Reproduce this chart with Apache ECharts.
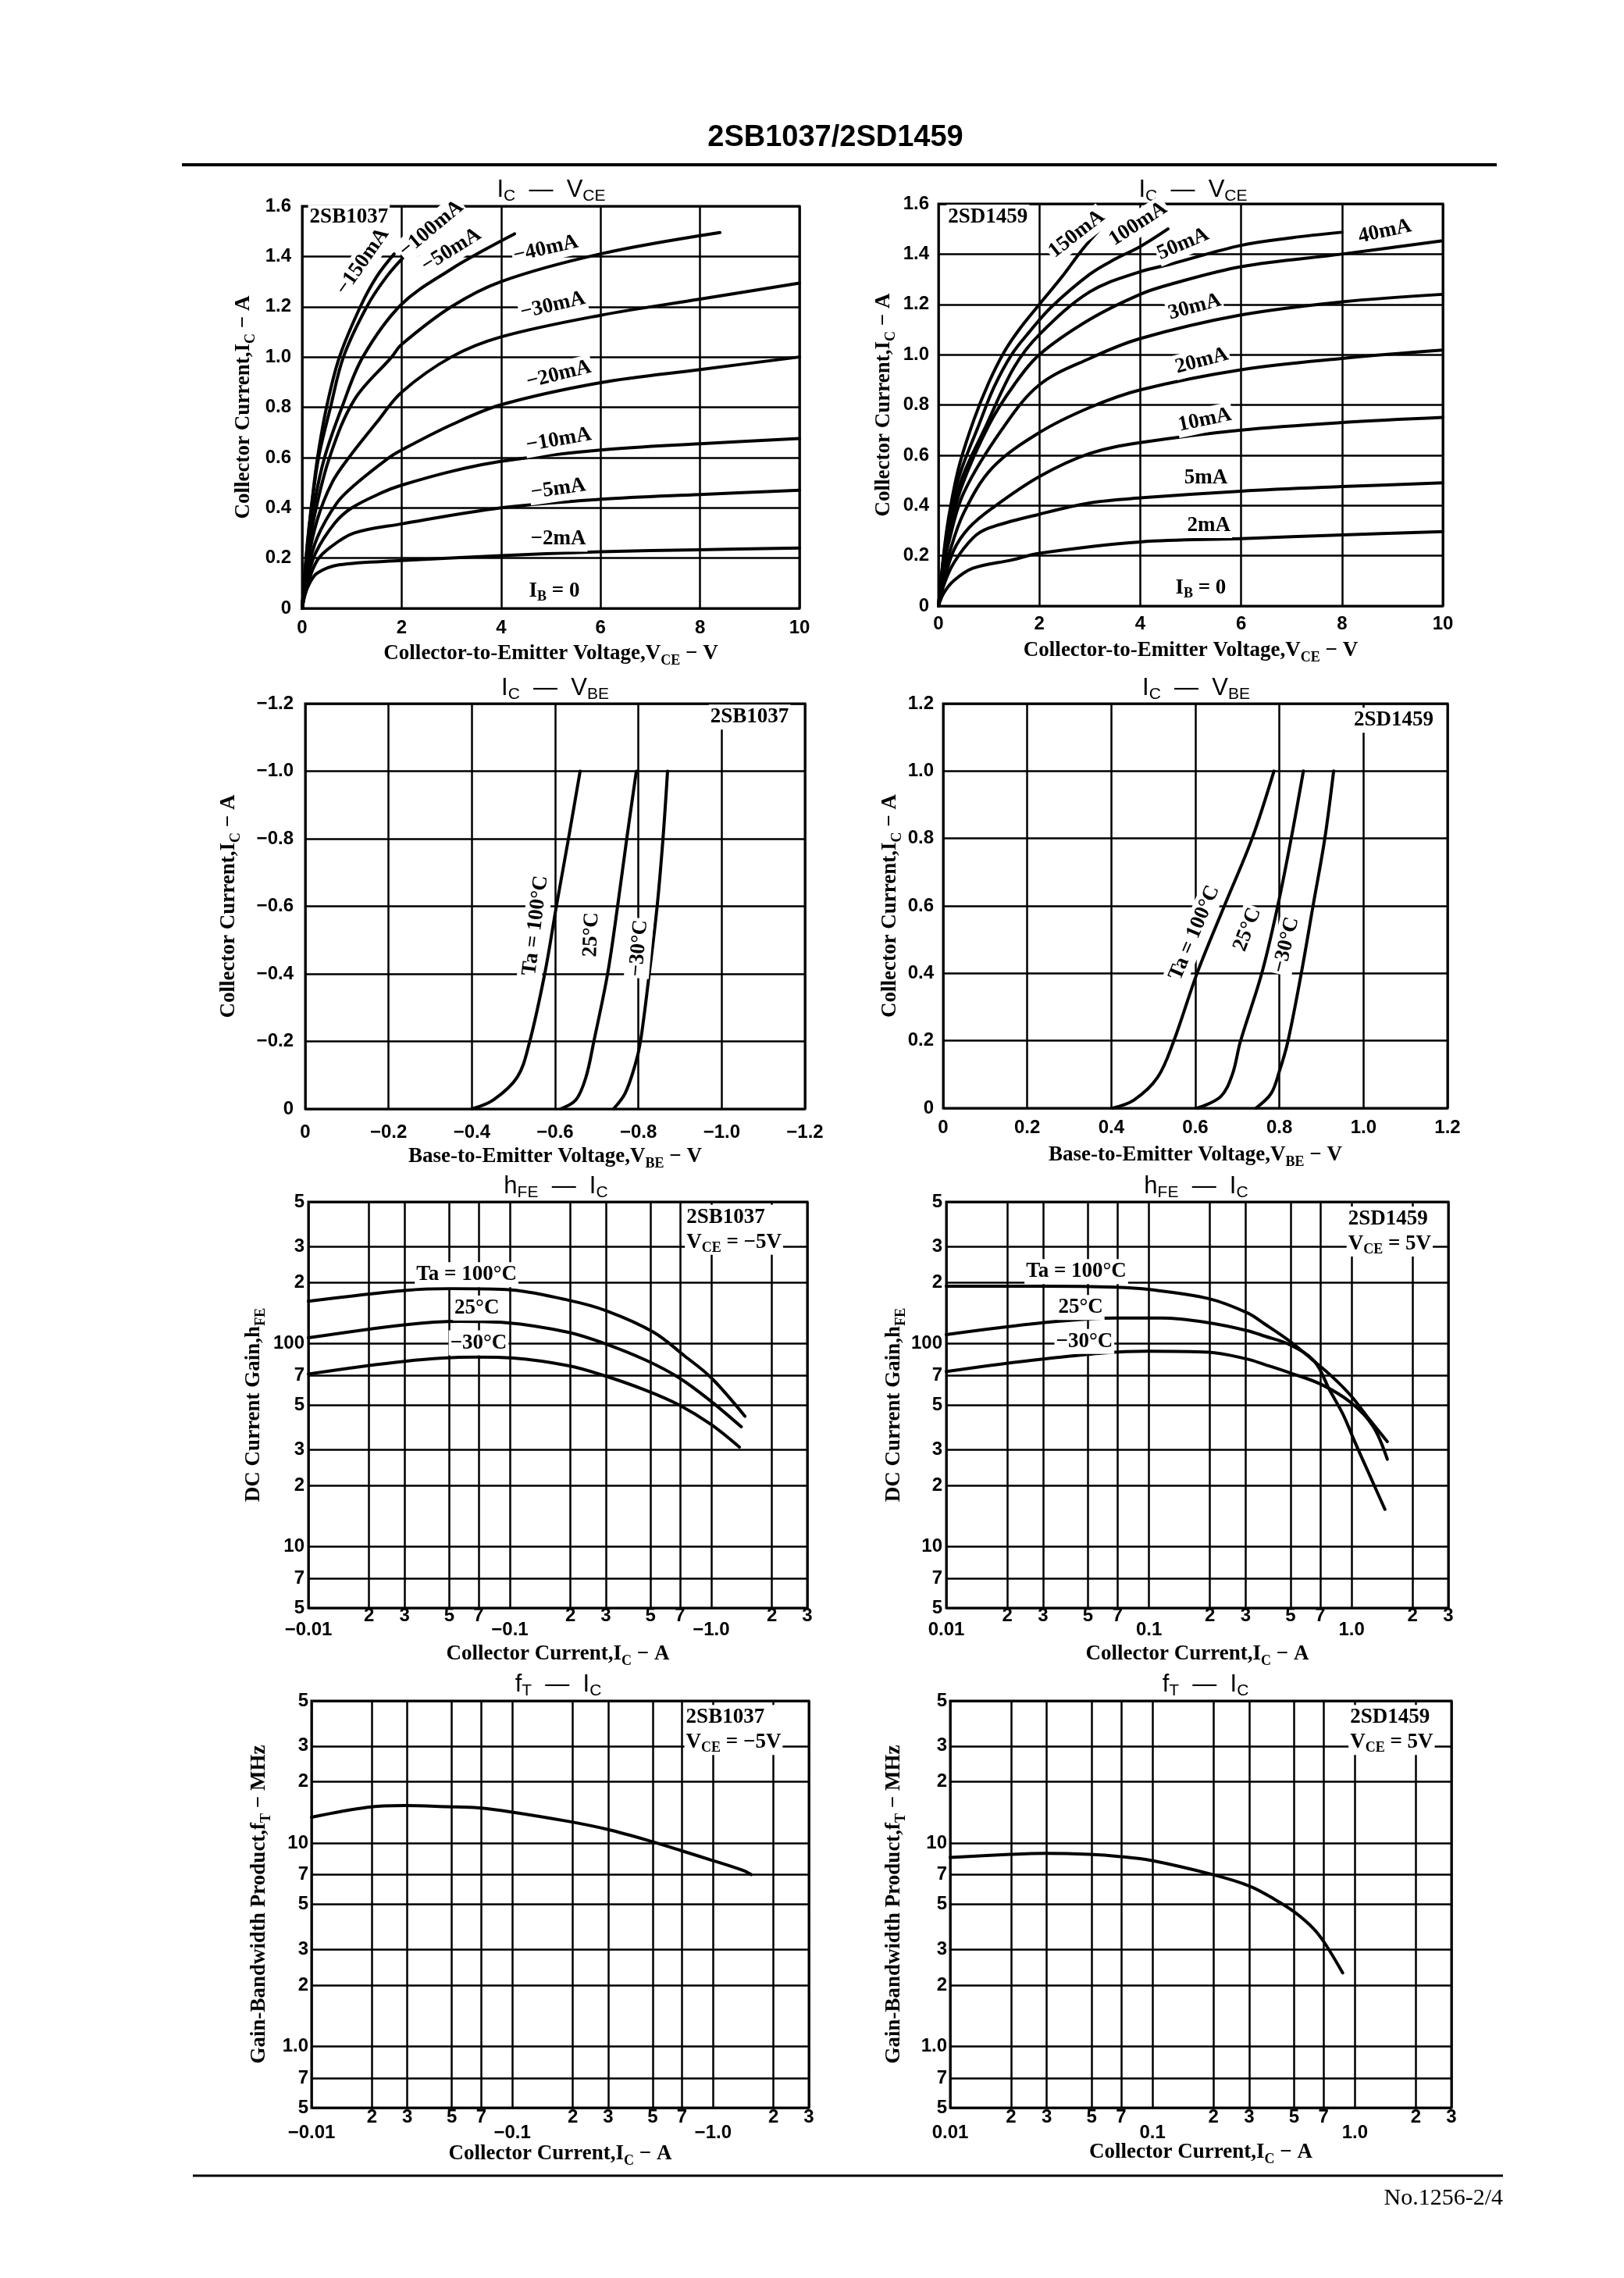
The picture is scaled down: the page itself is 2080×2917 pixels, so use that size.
<!DOCTYPE html>
<html>
<head>
<meta charset="utf-8">
<title>2SB1037/2SD1459</title>
<script src="https://cdn.jsdelivr.net/npm/echarts@6.0.0/dist/echarts.min.js"></script>
<style>
html,body{margin:0;padding:0;background:#fff;}
#chart{width:2080px;height:2917px;}
</style>
</head>
<body>
<div id="chart"></div>
<script>
// ================= DATA =================
// --- Chart 1: 2SB1037  IC - VCE  (magnitudes: |VCE| in V, |IC| in A) ---
const sbVceIb150 = [[0,0],[0.1,0.25],[0.2,0.43],[0.31,0.6],[0.49,0.8],[0.75,1.0],[1.17,1.2],[1.5,1.32],[1.85,1.41]];
const sbVceIb100 = [[0,0],[0.1,0.24],[0.2,0.42],[0.33,0.6],[0.57,0.8],[0.83,1.0],[1.3,1.2],[1.7,1.32],[2.1,1.41]];
const sbVceIb50  = [[0,0],[0.1,0.21],[0.25,0.42],[0.45,0.6],[0.8,0.8],[1.22,1.0],[2.0,1.21],[3.0,1.35],[3.7,1.43],[4.27,1.49]];
const sbVceIb40  = [[0,0],[0.1,0.19],[0.25,0.37],[0.55,0.6],[1.05,0.83],[1.8,1.0],[2.0,1.05],[3.0,1.2],[4.0,1.3],[6.0,1.41],[8.4,1.495]];
const sbVceIb30  = [[0,0],[0.1,0.17],[0.3,0.35],[0.6,0.5],[0.94,0.6],[1.5,0.74],[2.0,0.86],[3.0,1.0],[4.0,1.08],[6.0,1.166],[8.0,1.23],[10,1.294]];
const sbVceIb20  = [[0,0],[0.1,0.14],[0.3,0.28],[0.7,0.42],[1.05,0.49],[1.75,0.6],[2.0,0.63],[3.0,0.73],[4.0,0.81],[6.0,0.898],[8.0,0.95],[10,1.0]];
const sbVceIb10  = [[0,0],[0.1,0.11],[0.27,0.22],[0.66,0.34],[1.0,0.4],[1.6,0.46],[2.0,0.49],[3.0,0.545],[4.0,0.585],[6.0,0.63],[8.0,0.655],[10,0.676]];
const sbVceIb5   = [[0,0],[0.1,0.09],[0.3,0.19],[0.58,0.245],[1.05,0.3],[2.0,0.336],[4.0,0.4],[6.0,0.434],[8.0,0.453],[10,0.47]];
const sbVceIb2   = [[0,0],[0.05,0.05],[0.15,0.1],[0.3,0.14],[0.74,0.173],[2.0,0.19],[4.0,0.21],[6.0,0.225],[8.0,0.233],[10,0.24]];
const sbVceCurveNames = ['−150mA','−100mA','−50mA','−40mA','−30mA','−20mA','−10mA','−5mA','−2mA'];

// --- Chart 2: 2SD1459  IC - VCE ---
const sdVceIb150 = [[0,0],[0.1,0.2],[0.2,0.35],[0.4,0.55],[0.7,0.74],[1.0,0.89],[1.3,1.01],[1.6,1.1],[2.0,1.2],[2.45,1.31],[2.86,1.42],[3.3,1.52]];
const sdVceIb100 = [[0,0],[0.1,0.19],[0.2,0.33],[0.4,0.51],[0.8,0.72],[1.1,0.87],[1.45,1.0],[1.8,1.09],[2.24,1.19],[3.0,1.32],[3.5,1.38],[4.0,1.43],[4.55,1.5]];
const sdVceIb50  = [[0,0],[0.1,0.17],[0.2,0.3],[0.45,0.5],[0.95,0.72],[1.5,0.95],[2.0,1.08],[3.0,1.25],[4.0,1.33],[4.6,1.36],[6.0,1.435],[7.0,1.465],[8.0,1.487]];
const sdVceIb40  = [[0,0],[0.1,0.16],[0.2,0.28],[0.45,0.47],[1.0,0.72],[1.5,0.88],[2.0,1.0],[3.0,1.14],[4.0,1.24],[4.6,1.28],[6.0,1.35],[8.0,1.4],[10,1.453]];
const sdVceIb30  = [[0,0],[0.1,0.14],[0.2,0.25],[0.5,0.45],[1.25,0.7],[2.0,0.88],[3.0,0.985],[4.0,1.064],[6.0,1.158],[8.0,1.21],[10,1.24]];
const sdVceIb20  = [[0,0],[0.1,0.11],[0.2,0.2],[0.5,0.37],[1.07,0.55],[2.0,0.69],[3.0,0.79],[4.0,0.86],[6.0,0.94],[8.0,0.985],[10,1.018]];
const sdVceIb10  = [[0,0],[0.1,0.09],[0.3,0.22],[0.6,0.31],[1.07,0.39],[2.0,0.515],[3.0,0.607],[4.0,0.65],[6.0,0.7],[8.0,0.73],[10,0.75]];
const sdVceIb5   = [[0,0],[0.1,0.08],[0.3,0.17],[0.68,0.27],[1.0,0.31],[2.0,0.365],[3.0,0.41],[4.0,0.43],[6.0,0.457],[8.0,0.475],[10,0.49]];
const sdVceIb2   = [[0,0],[0.1,0.05],[0.3,0.1],[0.68,0.15],[1.45,0.183],[2.0,0.21],[4.0,0.255],[6.0,0.268],[8.0,0.283],[10,0.296]];
const sdVceCurveNames = ['150mA','100mA','50mA','40mA','30mA','20mA','10mA','5mA','2mA'];

// --- Chart 3: 2SB1037  IC - VBE (magnitudes) ---
const sbVbeTa100 = [[0.40,0],[0.452,0.027],[0.509,0.094],[0.537,0.19],[0.575,0.4],[0.603,0.6],[0.632,0.8],[0.66,1.0]];
const sbVbeTa25  = [[0.613,0],[0.65,0.027],[0.674,0.094],[0.693,0.2],[0.726,0.4],[0.75,0.6],[0.772,0.8],[0.795,1.0]];
const sbVbeTaM30 = [[0.74,0],[0.768,0.046],[0.792,0.13],[0.805,0.2],[0.826,0.4],[0.845,0.6],[0.859,0.8],[0.87,1.0]];

// --- Chart 4: 2SD1459  IC - VBE ---
const sdVbeTa100 = [[0.403,0],[0.454,0.024],[0.51,0.091],[0.548,0.197],[0.604,0.4],[0.669,0.6],[0.735,0.8],[0.787,1.0]];
const sdVbeTa25  = [[0.604,0],[0.66,0.034],[0.688,0.1],[0.707,0.197],[0.758,0.4],[0.796,0.6],[0.828,0.8],[0.857,1.0]];
const sdVbeTaM30 = [[0.744,0],[0.78,0.043],[0.8,0.11],[0.82,0.197],[0.852,0.4],[0.88,0.6],[0.908,0.8],[0.929,1.0]];

// --- Chart 5: 2SB1037  hFE - IC (|IC| in A) ---
const sbHfeTa100 = [[0.01,162],[0.03,183],[0.051,187],[0.096,185],[0.195,164],[0.304,145],[0.518,114],[0.739,87],[1.0,68],[1.47,44]];
const sbHfeTa25  = [[0.01,107],[0.03,124],[0.056,129],[0.096,127],[0.195,114],[0.29,101],[0.474,83],[0.692,68],[1.0,52],[1.41,39]];
const sbHfeTaM30 = [[0.01,71],[0.03,82],[0.067,86],[0.104,85],[0.195,78],[0.29,70],[0.474,59],[0.692,50],[1.0,40],[1.38,31]];

// --- Chart 6: 2SD1459  hFE - IC ---
const sdHfeTa100 = [[0.01,192],[0.03,192],[0.068,190],[0.101,185],[0.197,167],[0.306,142],[0.373,125],[0.495,103],[0.635,84],[0.8,69],[1.0,55],[1.21,43],[1.5,33]];
const sdHfeTa25  = [[0.01,111],[0.03,127],[0.068,134],[0.116,134],[0.197,127],[0.306,116],[0.373,109],[0.495,99],[0.655,82],[0.78,59],[0.906,45],[1.035,33],[1.216,23],[1.46,15.3]];
const sdHfeTaM30 = [[0.01,73],[0.0295,84],[0.097,92],[0.197,91],[0.306,84],[0.373,79],[0.495,72],[0.71,63],[1.0,51],[1.28,39],[1.5,27]];

// --- Chart 7 / 8: fT - IC (MHz) ---
const sbFt = [[0.01,13.4],[0.019,15.0],[0.029,15.3],[0.0475,15.1],[0.068,14.9],[0.1,14.2],[0.189,12.8],[0.295,11.7],[0.492,10.2],[0.689,9.2],[1.0,8.2],[1.43,7.3],[1.55,7.0]];
const sdFt = [[0.01,8.5],[0.0198,8.8],[0.0295,8.9],[0.049,8.8],[0.068,8.6],[0.0995,8.2],[0.198,7.0],[0.301,6.15],[0.4,5.3],[0.5,4.6],[0.624,3.8],[0.713,3.2],[0.87,2.3]];

// --- Tick values and tick labels ---
const icLogTicks    = [0.01,0.02,0.03,0.05,0.07,0.1,0.2,0.3,0.5,0.7,1,2,3];
const icLogLabelsSB = ['−0.01','2','3','5','7','−0.1','2','3','5','7','−1.0','2','3'];
const icLogLabelsSD = ['0.01','2','3','5','7','0.1','2','3','5','7','1.0','2','3'];
const hfeLogTicks   = [5,7,10,20,30,50,70,100,200,300,500];
const hfeLogLabels  = ['5','7','10','2','3','5','7','100','2','3','5'];
const ftLogTicks    = [0.5,0.7,1,2,3,5,7,10,20,30,50];
const ftLogLabels   = ['5','7','1.0','2','3','5','7','10','2','3','5'];

// ================= STYLE / LAYOUT =================
const FONT_SERIF = '"Liberation Serif", "DejaVu Serif", serif';
const FONT_NUM = '"Liberation Sans Narrow", "Liberation Sans", sans-serif';
const FONT_SANS = '"Liberation Sans", "DejaVu Sans", sans-serif';

const GRIDS = [
  {left:387,  top:264,  width:637, height:515},
  {left:1202, top:261,  width:646, height:515},
  {left:391,  top:901,  width:640, height:519},
  {left:1208, top:901,  width:646, height:518},
  {left:395,  top:1539, width:639, height:520},
  {left:1212, top:1539, width:643, height:520},
  {left:399,  top:2178, width:637, height:521},
  {left:1217, top:2178, width:642, height:521}
];

const subRich = (size, fam, weight) => ({ s: { fontSize: size, fontFamily: fam, fontWeight: weight || 'normal', verticalAlign: 'bottom', color: '#000', textBorderWidth: 0 } });
const nameStyle = { fontFamily: FONT_SERIF, fontWeight: 'bold', fontSize: 27, color: '#000', lineHeight: 36, rich: subRich(18, FONT_SERIF, 'bold') };
const splitStyle = { show: true, lineStyle: { color: '#000', width: 2.5 } };
const numLabel = { fontFamily: FONT_NUM, fontWeight: 'bold', fontSize: 24, color: '#000' };

function lookupFormatter(vals, labels, twoRow) {
  return function (v) {
    for (let i = 0; i < vals.length; i++) {
      if (Math.abs(Math.log10(v) - Math.log10(vals[i])) < 1e-4) {
        const s = labels[i];
        return (twoRow && s.indexOf('.') >= 0) ? '\n' + s : s;
      }
    }
    return '';
  };
}

function axisCommon(gi, name, gap) {
  return {
    gridIndex: gi, name: name, nameLocation: 'middle', nameGap: gap, nameTextStyle: nameStyle,
    nameMoveOverlap: false,
    axisLine: { show: false }, axisTick: { show: false },
    splitLine: splitStyle
  };
}

const xNameVce = 'Collector-to-Emitter Voltage,V{s|CE} − V';
const xNameVbe = 'Base-to-Emitter Voltage,V{s|BE} − V';
const xNameIc = 'Collector Current,I{s|C} − A';
const yNameIc = 'Collector Current,I{s|C} − A';
const yNameHfe = 'DC Current Gain,h{s|FE}';
const yNameFt = 'Gain-Bandwidth Product,f{s|T} − MHz';

const fmtPlain = v => String(v);
const fmtDec = v => (Math.abs(v) < 1e-9 ? '0' : v.toFixed(1));
const fmtNegDec = v => (Math.abs(v) < 1e-9 ? '0' : '−' + v.toFixed(1));

function linX(gi, name, gap, max, interval, fmt, margin) {
  return Object.assign(axisCommon(gi, name, gap), {
    type: 'value', min: 0, max: max, interval: interval,
    axisLabel: Object.assign({ formatter: fmt, margin: margin, showMinLabel: true, showMaxLabel: true }, numLabel)
  });
}
function logX(gi, labels, gap, margin, lh) {
  return Object.assign(axisCommon(gi, xNameIc, gap), {
    type: 'log', logBase: 10, min: 0.01, max: 3,
    axisTick: { show: false, customValues: icLogTicks },
    axisLabel: Object.assign({ customValues: icLogTicks, formatter: lookupFormatter(icLogTicks, labels, true), margin: margin, lineHeight: lh }, numLabel)
  });
}
function logY(gi, name, gap, ticks, labels, min, max, margin) {
  return Object.assign(axisCommon(gi, name, gap), {
    type: 'log', logBase: 10, min: min, max: max,
    axisTick: { show: false, customValues: ticks },
    axisLabel: Object.assign({ customValues: ticks, formatter: lookupFormatter(ticks, labels, false), margin: margin }, numLabel)
  });
}

const xAxes = [
  linX(0, xNameVce, 40, 10, 2, fmtPlain, 13),
  linX(1, xNameVce, 39, 10, 2, fmtPlain, 11),
  linX(2, xNameVbe, 43, 1.2, 0.2, fmtNegDec, 18),
  linX(3, xNameVbe, 42, 1.2, 0.2, fmtDec, 13),
  logX(4, icLogLabelsSB, 41, 1, 18),
  logX(5, icLogLabelsSD, 41, 1, 18),
  logX(6, icLogLabelsSB, 41, 2, 20),
  logX(7, icLogLabelsSD, 39, 2, 20)
];
const yAxes = [
  linX(0, yNameIc, 57, 1.6, 0.2, fmtDec, 14),
  linX(1, yNameIc, 52, 1.6, 0.2, fmtDec, 12),
  linX(2, yNameIc, 80, 1.2, 0.2, fmtNegDec, 15),
  linX(3, yNameIc, 50, 1.2, 0.2, fmtDec, 12),
  logY(4, yNameHfe, 52, hfeLogTicks, hfeLogLabels, 5, 500, 5),
  logY(5, yNameHfe, 49, hfeLogTicks, hfeLogLabels, 5, 500, 5),
  logY(6, yNameFt, 49, ftLogTicks, ftLogLabels, 0.5, 50, 4),
  logY(7, yNameFt, 54, ftLogTicks, ftLogLabels, 0.5, 50, 4)
];

function curve(gi, data) {
  return {
    type: 'line', xAxisIndex: gi, yAxisIndex: gi, data: data,
    showSymbol: false, symbol: 'none', smooth: 0.35,
    lineStyle: { color: '#000', width: 4, cap: 'round', join: 'round' }, clip: true, silent: true, z: 3
  };
}

// Annotation anchors (data coordinates) for the in-plot texts
const annotations = [
  [0, 1.22, 1.38, sbVceCurveNames[0], 55], [0, 2.6, 1.51, sbVceCurveNames[1], 40], [0, 3.0, 1.425, sbVceCurveNames[2], 32],
  [0, 4.9, 1.43, sbVceCurveNames[3], 13], [0, 5.04, 1.205, sbVceCurveNames[4], 13], [0, 5.16, 0.93, sbVceCurveNames[5], 14],
  [0, 5.16, 0.67, sbVceCurveNames[6], 10], [0, 5.15, 0.475, sbVceCurveNames[7], 8], [0, 5.15, 0.275, sbVceCurveNames[8], 0],
  [0, 5.07, 0.068, 'I{s|B} = 0', 0], [0, 0.94, 1.556, '2SB1037', 0],
  [1, 2.74, 1.48, sdVceCurveNames[0], 38], [1, 3.96, 1.52, sdVceCurveNames[1], 33], [1, 4.85, 1.44, sdVceCurveNames[2], 23],
  [1, 8.85, 1.49, sdVceCurveNames[3], 12], [1, 5.08, 1.19, sdVceCurveNames[4], 15], [1, 5.22, 0.975, sdVceCurveNames[5], 15],
  [1, 5.28, 0.74, sdVceCurveNames[6], 12], [1, 5.3, 0.51, sdVceCurveNames[7], 0], [1, 5.36, 0.32, sdVceCurveNames[8], 0],
  [1, 5.2, 0.07, 'I{s|B} = 0', 0], [1, 0.98, 1.547, '2SD1459', 0],
  [2, 0.553, 0.543, 'Ta = 100°C', 83], [2, 0.687, 0.516, '25°C', 88], [2, 0.801, 0.476, '−30°C', 85], [2, 1.067, 1.16, '2SB1037', 0],
  [3, 0.598, 0.52, 'Ta = 100°C', 67], [3, 0.724, 0.53, '25°C', 69], [3, 0.816, 0.484, '−30°C', 76], [3, 1.072, 1.151, '2SD1459', 0],
  [4, 0.061, 219, 'Ta = 100°C', 0], [4, 0.0686, 150, '25°C', 0], [4, 0.07, 101, '−30°C', 0],
  [4, 0.74, 364, '2SB1037\nV{s|CE} = −5V', 0, 'left'],
  [5, 0.0438, 227, 'Ta = 100°C', 0], [5, 0.046, 151, '25°C', 0], [5, 0.048, 102.6, '−30°C', 0],
  [5, 0.944, 357, '2SD1459\nV{s|CE} = 5V', 0, 'left'],
  [6, 0.72, 36, '2SB1037\nV{s|CE} = −5V', 0, 'left'],
  [7, 0.93, 36, '2SD1459\nV{s|CE} = 5V', 0, 'left']
];

function annotationSeries(gi) {
  const items = annotations.filter(a => a[0] === gi);
  return {
    type: 'scatter', xAxisIndex: gi, yAxisIndex: gi, symbolSize: 1, silent: true, z: 10, zlevel: 1,
    itemStyle: { color: 'rgba(0,0,0,0)', opacity: 1 },
    data: items.map(a => ({
      value: [a[1], a[2]],
      label: {
        show: true, position: 'inside', formatter: a[3], rotate: a[4] || 0,
        align: a[5] || 'center', verticalAlign: 'middle', opacity: 1,
        fontFamily: FONT_SERIF, fontWeight: 'bold', fontSize: 27, color: '#000', lineHeight: 32,
        textBorderWidth: 0, textBorderColor: 'transparent', textShadowBlur: 0,
        backgroundColor: '#fff', padding: [0, 2],
        rich: subRich(18, FONT_SERIF, 'bold')
      }
    }))
  };
}

const series = [];
[sbVceIb150, sbVceIb100, sbVceIb50, sbVceIb40, sbVceIb30, sbVceIb20, sbVceIb10, sbVceIb5, sbVceIb2].forEach(d => series.push(curve(0, d)));
[sdVceIb150, sdVceIb100, sdVceIb50, sdVceIb40, sdVceIb30, sdVceIb20, sdVceIb10, sdVceIb5, sdVceIb2].forEach(d => series.push(curve(1, d)));
[sbVbeTa100, sbVbeTa25, sbVbeTaM30].forEach(d => series.push(curve(2, d)));
[sdVbeTa100, sdVbeTa25, sdVbeTaM30].forEach(d => series.push(curve(3, d)));
[sbHfeTa100, sbHfeTa25, sbHfeTaM30].forEach(d => series.push(curve(4, d)));
[sdHfeTa100, sdHfeTa25, sdHfeTaM30].forEach(d => series.push(curve(5, d)));
series.push(curve(6, sbFt));
series.push(curve(7, sdFt));
for (let g = 0; g < 8; g++) series.push(annotationSeries(g));

// Page texts (titles, header, footer)
const chartTitles = [
  [706, 243, 'I{s|C}  —  V{s|CE}'], [1528, 243, 'I{s|C}  —  V{s|CE}'],
  [711, 881, 'I{s|C}  —  V{s|BE}'], [1532, 881, 'I{s|C}  —  V{s|BE}'],
  [712, 1519, 'h{s|FE}  —  I{s|C}'], [1532, 1519, 'h{s|FE}  —  I{s|C}'],
  [715, 2157, 'f{s|T}  —  I{s|C}'], [1544, 2157, 'f{s|T}  —  I{s|C}']
];

const graphic = [
  { type: 'text', x: 1070, y: 177, silent: true,
    style: { text: '2SB1037/2SD1459', font: 'bold 38px ' + FONT_SANS, fill: '#000', align: 'center', verticalAlign: 'middle' } },
  { type: 'line', silent: true, shape: { x1: 233, y1: 211, x2: 1917, y2: 211 }, style: { stroke: '#000', lineWidth: 4 } },
  { type: 'line', silent: true, shape: { x1: 247, y1: 2786, x2: 1925, y2: 2786 }, style: { stroke: '#000', lineWidth: 3 } },
  { type: 'text', x: 1925, y: 2815, silent: true,
    style: { text: 'No.1256-2/4', font: '30px ' + FONT_SERIF, fill: '#000', align: 'right', verticalAlign: 'middle' } }
].concat(chartTitles.map(t => ({
  type: 'text', x: t[0], y: t[1], silent: true,
  style: {
    text: t[2], fontFamily: FONT_SANS, fontSize: 31, fill: '#000', align: 'center', verticalAlign: 'middle', lineHeight: 38,
    rich: { s: { fontSize: 21, fontFamily: FONT_SANS, verticalAlign: 'bottom', fill: '#000' } }
  }
})));

const option = {
  animation: false,
  backgroundColor: '#fff',
  grid: GRIDS.map(g => Object.assign({ show: true, borderColor: '#000', borderWidth: 3, backgroundColor: 'transparent', containLabel: false, outerBoundsMode: 'none' }, g)),
  xAxis: xAxes,
  yAxis: yAxes,
  series: series,
  graphic: graphic
};

const chart = echarts.init(document.getElementById('chart'), null, { renderer: 'canvas' });
chart.setOption(option);
</script>
</body>
</html>
